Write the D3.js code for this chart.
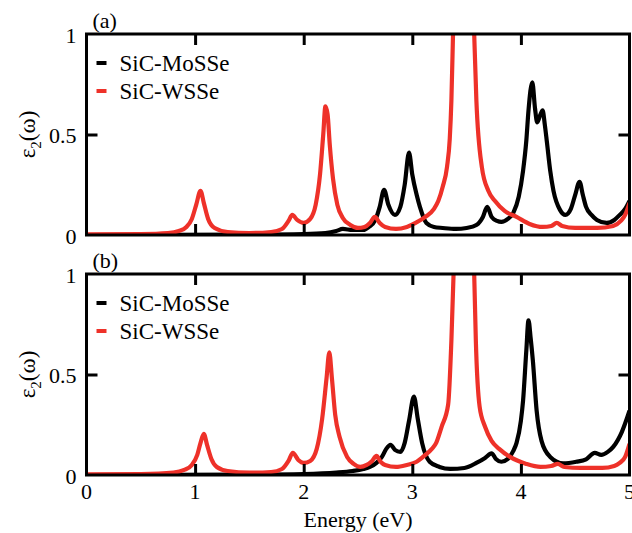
<!DOCTYPE html>
<html>
<head>
<meta charset="utf-8">
<script src="https://cdn.jsdelivr.net/npm/d3@7"></script>
<style>
  body { margin: 0; background: #fff; }
  text { font-family: "Liberation Serif", "Times New Roman", serif; }
</style>
</head>
<body>
<div id="chart"></div>
<script>
// energy (eV), eps2 pairs
const mossePanelA = [[0,0],[1.5,0.002],[2.0,0.005],[2.2,0.01],[2.3,0.02],[2.36,0.03],[2.45,0.025],[2.55,0.025],[2.6,0.04],[2.66,0.075],[2.7,0.14],[2.74,0.225],[2.78,0.15],[2.84,0.1],[2.89,0.14],[2.93,0.25],[2.97,0.41],[3.0,0.3],[3.04,0.2],[3.07,0.14],[3.13,0.06],[3.2,0.04],[3.28,0.035],[3.4,0.03],[3.5,0.035],[3.59,0.05],[3.65,0.09],[3.69,0.14],[3.73,0.09],[3.78,0.07],[3.82,0.065],[3.88,0.08],[3.93,0.11],[3.98,0.19],[4.02,0.32],[4.05,0.47],[4.07,0.62],[4.105,0.76],[4.13,0.63],[4.15,0.56],[4.18,0.6],[4.2,0.62],[4.22,0.55],[4.24,0.46],[4.27,0.32],[4.3,0.22],[4.36,0.125],[4.41,0.1],[4.46,0.13],[4.5,0.2],[4.54,0.265],[4.57,0.2],[4.6,0.14],[4.65,0.1],[4.7,0.075],[4.79,0.06],[4.86,0.075],[4.91,0.1],[4.96,0.13],[5.0,0.17]];
const wssePanelA = [[0,0.003],[0.5,0.005],[0.75,0.01],[0.85,0.02],[0.92,0.04],[0.97,0.08],[1.01,0.15],[1.05,0.22],[1.08,0.16],[1.12,0.08],[1.18,0.035],[1.3,0.015],[1.5,0.01],[1.7,0.015],[1.8,0.03],[1.86,0.07],[1.895,0.1],[1.94,0.075],[2.0,0.06],[2.06,0.08],[2.11,0.15],[2.15,0.3],[2.18,0.5],[2.2,0.64],[2.22,0.6],[2.24,0.45],[2.27,0.28],[2.31,0.15],[2.36,0.085],[2.43,0.05],[2.5,0.035],[2.56,0.04],[2.61,0.06],[2.655,0.09],[2.7,0.06],[2.75,0.04],[2.85,0.03],[2.95,0.04],[3.03,0.06],[3.12,0.09],[3.2,0.13],[3.24,0.17],[3.28,0.24],[3.32,0.34],[3.345,0.48],[3.36,0.67],[3.375,1.0],[3.41,1.8],[3.47,2.5],[3.53,1.8],[3.57,1.0],[3.59,0.67],[3.64,0.34],[3.7,0.22],[3.76,0.17],[3.85,0.12],[3.96,0.09],[4.08,0.055],[4.2,0.04],[4.28,0.045],[4.33,0.06],[4.38,0.045],[4.5,0.035],[4.7,0.035],[4.85,0.045],[4.92,0.07],[4.96,0.1],[5.0,0.16]];
const mossePanelB = [[0,0],[1.5,0.002],[2.0,0.005],[2.3,0.012],[2.45,0.02],[2.55,0.03],[2.61,0.04],[2.67,0.06],[2.72,0.09],[2.76,0.13],[2.8,0.15],[2.84,0.125],[2.89,0.115],[2.93,0.16],[2.97,0.27],[3.015,0.39],[3.05,0.28],[3.09,0.16],[3.16,0.066],[3.25,0.04],[3.35,0.03],[3.48,0.035],[3.59,0.06],[3.67,0.085],[3.73,0.108],[3.77,0.08],[3.82,0.066],[3.88,0.08],[3.93,0.12],[3.96,0.16],[4.0,0.27],[4.02,0.37],[4.05,0.62],[4.07,0.77],[4.09,0.68],[4.11,0.57],[4.145,0.32],[4.19,0.17],[4.27,0.09],[4.39,0.058],[4.51,0.066],[4.6,0.078],[4.68,0.11],[4.74,0.1],[4.8,0.115],[4.85,0.14],[4.93,0.215],[5.0,0.32]];
const wssePanelB = [[0,0.003],[0.5,0.005],[0.8,0.012],[0.9,0.025],[0.97,0.05],[1.02,0.1],[1.05,0.16],[1.08,0.205],[1.11,0.15],[1.15,0.08],[1.2,0.04],[1.3,0.02],[1.5,0.012],[1.7,0.015],[1.8,0.03],[1.86,0.07],[1.9,0.11],[1.95,0.075],[2.0,0.06],[2.06,0.07],[2.12,0.13],[2.17,0.28],[2.21,0.48],[2.236,0.61],[2.26,0.48],[2.29,0.3],[2.33,0.19],[2.4,0.09],[2.46,0.055],[2.52,0.04],[2.58,0.05],[2.63,0.07],[2.67,0.095],[2.71,0.065],[2.75,0.05],[2.85,0.04],[2.95,0.05],[3.04,0.066],[3.12,0.1],[3.18,0.13],[3.22,0.16],[3.27,0.24],[3.33,0.35],[3.36,0.67],[3.38,1.0],[3.42,1.8],[3.48,2.5],[3.54,1.8],[3.57,1.0],[3.585,0.67],[3.62,0.34],[3.67,0.24],[3.73,0.17],[3.8,0.13],[3.9,0.09],[4.05,0.055],[4.18,0.04],[4.28,0.045],[4.34,0.055],[4.4,0.04],[4.55,0.035],[4.75,0.035],[4.86,0.045],[4.91,0.06],[4.96,0.09],[5.0,0.155]];

const seriesNames = ["SiC-MoSSe", "SiC-WSSe"];
const seriesColors = ["#000000", "#ee3129"];
const panelLabels = ["(a)", "(b)"];
const xTicks = [0, 1, 2, 3, 4, 5];
const yTicks = [0, 0.5, 1];

const width = 632, height = 533;
const left = 86.5, right = 629.5;
const panels = [
  {top: 34, bottom: 235, data: [mossePanelA, wssePanelA], label: panelLabels[0], xLabels: false},
  {top: 274, bottom: 475, data: [mossePanelB, wssePanelB], label: panelLabels[1], xLabels: true}
];

const svg = d3.select("#chart")
  .append("svg")
  .attr("width", width)
  .attr("height", height);

const x = d3.scaleLinear().domain([0, 5]).range([left, right]);
const tickLen = 11;

panels.forEach((p, i) => {
  const y = d3.scaleLinear().domain([0, 1]).range([p.bottom, p.top]);
  const g = svg.append("g");

  g.append("clipPath").attr("id", "clip" + i)
    .append("rect")
    .attr("x", left).attr("y", p.top)
    .attr("width", right - left).attr("height", p.bottom - p.top);

  const line = d3.line()
    .x(d => x(d[0]))
    .y(d => y(d[1]))
    .curve(d3.curveMonotoneX);

  // red drawn after black, like the original
  p.data.forEach((s, k) => {
    g.append("path")
      .datum(s)
      .attr("clip-path", `url(#clip${i})`)
      .attr("fill", "none")
      .attr("stroke", seriesColors[k])
      .attr("stroke-width", 4.2)
      .attr("stroke-linejoin", "round")
      .attr("d", line);
  });

  // axes (inward ticks on all four sides)
  const axStyle = a => a.select(".domain").remove();
  g.append("g").attr("transform", `translate(0,${p.bottom})`)
    .call(d3.axisTop(x).tickValues([1, 2, 3, 4]).tickSize(tickLen).tickFormat(""))
    .call(axStyle);
  g.append("g").attr("transform", `translate(0,${p.top})`)
    .call(d3.axisBottom(x).tickValues([1, 2, 3, 4]).tickSize(tickLen).tickFormat(""))
    .call(axStyle);
  g.append("g").attr("transform", `translate(${left},0)`)
    .call(d3.axisRight(y).tickValues([0.5]).tickSize(tickLen).tickFormat(""))
    .call(axStyle);
  g.append("g").attr("transform", `translate(${right},0)`)
    .call(d3.axisLeft(y).tickValues([0.5]).tickSize(tickLen).tickFormat(""))
    .call(axStyle);
  g.selectAll(".tick line").attr("stroke", "#000").attr("stroke-width", 3);

  g.append("rect")
    .attr("x", left).attr("y", p.top)
    .attr("width", right - left).attr("height", p.bottom - p.top)
    .attr("fill", "none").attr("stroke", "#000").attr("stroke-width", 3);

  // y tick labels
  g.selectAll(".ylab").data(yTicks).join("text")
    .attr("x", left - 10)
    .attr("y", d => y(d))
    .attr("dy", "0.4em")
    .attr("text-anchor", "end")
    .attr("font-size", 22)
    .text(d => d3.format("")(d));

  if (p.xLabels) {
    g.selectAll(".xlab").data(xTicks).join("text")
      .attr("x", d => x(d))
      .attr("y", p.bottom + 24)
      .attr("text-anchor", "middle")
      .attr("font-size", 22)
      .text(d => d);
  }

  g.append("text")
    .attr("x", left + 6).attr("y", p.top - 6)
    .attr("font-size", 22)
    .text(p.label);

  // y axis title
  const yt = g.append("text")
    .attr("transform", `translate(35,${(p.top + p.bottom) / 2}) rotate(-90)`)
    .attr("text-anchor", "middle")
    .attr("font-size", 23);
  yt.append("tspan").text("ε");
  yt.append("tspan").attr("font-size", 15).attr("dy", 6).text("2");
  yt.append("tspan").attr("dy", -6).text("(ω)");

  // legend
  seriesNames.forEach((name, k) => {
    const ly = p.top + 29 + k * 28;
    g.append("line")
      .attr("x1", left + 10).attr("x2", left + 20)
      .attr("y1", ly).attr("y2", ly)
      .attr("stroke", seriesColors[k]).attr("stroke-width", 4);
    g.append("text")
      .attr("x", left + 33).attr("y", ly)
      .attr("dy", "0.33em")
      .attr("font-size", 23)
      .text(name);
  });
});

svg.append("text")
  .attr("x", (left + right) / 2)
  .attr("y", 527)
  .attr("text-anchor", "middle")
  .attr("font-size", 22)
  .text("Energy (eV)");
</script>
</body>
</html>
